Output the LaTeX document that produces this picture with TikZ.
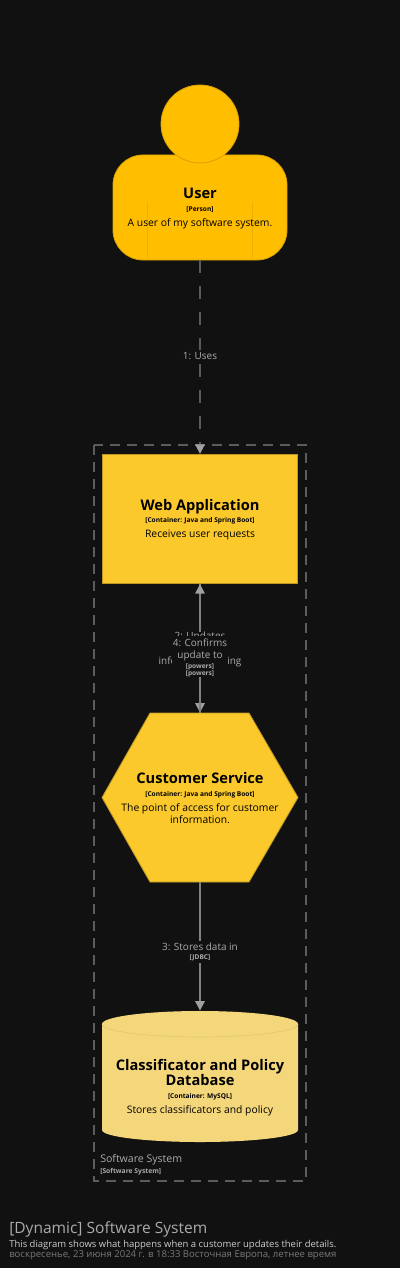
\documentclass[tikz,border=0pt]{standalone}
\usepackage{xcolor}
\usepackage{fontspec}
\setmainfont{Open Sans}
\usetikzlibrary{arrows.meta}
\definecolor{bgdark}{HTML}{111111}
\definecolor{persfill}{HTML}{FFBF00}
\definecolor{contfill}{HTML}{FBC92C}
\definecolor{dbfill}{HTML}{F5D77B}
\definecolor{edgegray}{HTML}{808080}
\definecolor{dashgray}{HTML}{5A5A5A}
\definecolor{tipgray}{HTML}{A0A0A0}
\definecolor{bordergray}{HTML}{5C5C5C}
\definecolor{labelgray}{HTML}{ABABAB}
\newcommand{\ttl}[1]{{\fontsize{10.4}{12}\selectfont\bfseries #1}}
\newcommand{\tech}[1]{{\fontsize{4.7}{6}\selectfont\bfseries #1}}
\newcommand{\descr}[1]{{\fontsize{7.35}{10}\selectfont #1}}
\begin{document}
\begin{tikzpicture}[x=0.25mm,y=-0.25mm]
    \tikzstyle{Txt}=[align=center,text=black,inner sep=0pt]
    \tikzstyle{Box}=[rectangle,draw=contfill!75!black,fill=contfill,line width=0.2mm,minimum width=48.8mm,minimum height=32.3mm]
    \tikzstyle{Pers}=[draw=persfill!85!black,fill=persfill,line width=0.2mm]
    \tikzstyle{Ghost}=[rectangle,minimum width=49mm,inner sep=0pt]
    \tikzstyle{Lbl}=[align=center,text=labelgray,fill=bgdark,inner sep=0pt,font=\fontsize{7.1}{8.6}\selectfont]
    \tikzstyle{Rel}=[edgegray,line width=0.45mm,-{Triangle[length=2.4mm,width=2.3mm,color=tipgray]}]

    % Draw background
    \fill [bgdark] (0,0) rectangle (400,1268);
    \useasboundingbox (0,0) rectangle (400,1268);

    % Boundary
    \draw [bordergray,line width=0.3mm,dash pattern=on 2.4mm off 1.85mm] (94,445) rectangle (306,1181);
    \node [anchor=west,text=labelgray,inner sep=0pt,font=\fontsize{7.5}{9}\selectfont] (sysname) at (100,1160) {Software System};
    \node [anchor=west,text=labelgray,inner sep=0pt,font=\fontsize{4.8}{6}\selectfont\bfseries] (systype) at (100,1172) {[Software System]};

    % User
    \node [Pers,rectangle,rounded corners=7.5mm,minimum width=43.5mm,minimum height=26.25mm] (body) at (200,207.5) {};
    \node [Pers,circle,minimum size=19.5mm,inner sep=0pt] (head) at (200,124) {};
    \coordinate (lineAtop) at (147,202);
    \coordinate (lineAbot) at (147,259);
    \coordinate (lineBtop) at (252,202);
    \coordinate (lineBbot) at (252,259);
    \draw [persfill!92!black,line width=0.15mm] (lineAtop) -- (lineAbot);
    \draw [persfill!92!black,line width=0.15mm] (lineBtop) -- (lineBbot);
    \node [Txt] (usertext) at (200,208.5) {\ttl{User}\\[-3pt]\tech{[Person]}\\[-1.5pt]\descr{A user of my software system.}};

    % Web application
    \node [Box] (web) at (200,519) {};
    \node [Txt] (webtext) at (200,519.5) {\ttl{Web Application}\\[-3pt]\tech{[Container: Java and Spring Boot]}\\[-1.5pt]\descr{Receives user requests}};

    % Customer service
    \node [Ghost,minimum height=42.25mm] (service) at (200,797.5) {};
    \fill [contfill,draw=contfill!75!black,line width=0.2mm] (102,797.5) -- (150,713) -- (249,713) -- (298,797.5) -- (249,882) -- (150,882) -- cycle;
    \node [Txt] (servicetext) at (200,798) {\ttl{Customer Service}\\[-3pt]\tech{[Container: Java and Spring Boot]}\\[-1.5pt]\descr{The point of access for customer}\\[-3.5pt]\descr{information.}};

    % Database
    \node [Ghost,minimum height=32.75mm] (db) at (200,1076.5) {};
    \fill [dbfill] (102,1024) -- (102,1130) arc [start angle=180,end angle=0,x radius=98,y radius=12] -- (298,1024) arc [start angle=0,end angle=-180,x radius=98,y radius=13] -- cycle;
    \draw [dbfill!92!black,line width=0.15mm] (102,1024) arc [start angle=180,end angle=0,x radius=98,y radius=13];
    \node [Txt] (dbtext) at (200,1087.5) {\ttl{Classificator and Policy}\\[-1pt]\ttl{Database}\\[-3pt]\tech{[Container: MySQL]}\\[-1.5pt]\descr{Stores classificators and policy}};

    % Connectors
    \draw [Rel,dashgray,dash pattern=on 3.25mm off 3.25mm] (body.south) -- (web.north);
    \draw [Rel] (web.south) -- (service.north);
    \draw [Rel] (service.north) -- (web.south);
    \draw [Rel] (service.south) -- (db.north);

    % Labels
    \node [Lbl,inner ysep=0.5mm] (uses) at (200,356) {1: Uses};
    \node [Lbl,anchor=north] (updates) at (200,632) {2: Updates\\[8.6pt]information using\\[-0.8pt]{\fontsize{4.7}{6}\selectfont\bfseries [powers]}};
    \node [Lbl,anchor=north,minimum width=14mm] (confirms) at (200,636) {\rule{0pt}{2.5mm}4: Confirms\\[-0.2pt]update to\\[-1.2pt]{\fontsize{4.7}{6}\selectfont\bfseries [powers]}};
    \node [Lbl,inner ysep=0.5mm] (stores) at (200,952) {3: Stores data in\\[-2.5pt]{\fontsize{4.7}{6}\selectfont\bfseries [JDBC]}};

    % Title
    \node [anchor=west,text=labelgray,inner sep=0pt,font=\fontsize{11.05}{13}\selectfont] (title) at (9,1229) {[Dynamic] Software System};
    \node [anchor=west,text=labelgray!60!white,inner sep=0pt,font=\fontsize{6.75}{8}\selectfont] (subtitle) at (9,1245.5) {This diagram shows what happens when a customer updates their details.};
    \node [anchor=west,text=labelgray!70!black,inner sep=0pt,font=\fontsize{6.8}{8}\selectfont] (datestamp) at (9,1255.5) {воскресенье, 23 июня 2024 г. в 18:33 Восточная Европа, летнее время};
\end{tikzpicture}
\end{document}
